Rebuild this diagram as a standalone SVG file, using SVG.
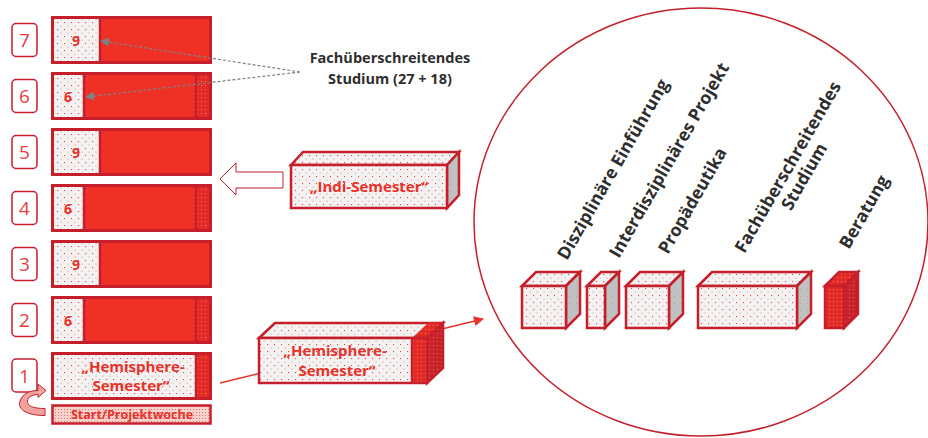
<svg xmlns="http://www.w3.org/2000/svg" width="928" height="438" viewBox="0 0 928 438">
  <defs>
    <pattern id="pLight" width="7" height="7" patternUnits="userSpaceOnUse">
      <rect width="7" height="7" fill="#F3F2F2"/>
      <rect x="1" y="1" width="1.1" height="1.1" fill="#E8483F"/>
      <rect x="4.5" y="4.5" width="1.3" height="1.3" fill="#F4B3AE"/>
    </pattern>
    <pattern id="pGray" width="7" height="7" patternUnits="userSpaceOnUse">
      <rect width="7" height="7" fill="#BFC2C2"/>
      <rect x="2" y="2" width="1" height="1" fill="#D98F8B"/>
    </pattern>
    <pattern id="pRed" width="4" height="4" patternUnits="userSpaceOnUse">
      <rect width="4" height="4" fill="#E32A24"/>
      <rect x="1" y="1" width="1" height="1" fill="#F47F76"/>
    </pattern>
    <pattern id="pRedDark" width="4" height="4" patternUnits="userSpaceOnUse">
      <rect width="4" height="4" fill="#C9222A"/>
      <rect x="1" y="1" width="1" height="1" fill="#E56A66"/>
    </pattern>
    <pattern id="pStart" width="3" height="3" patternUnits="userSpaceOnUse">
      <rect width="3" height="3" fill="#F6D2CE"/>
      <rect x="1" y="1" width="1" height="1" fill="#EE6E66"/>
    </pattern>
    <marker id="mGray" viewBox="0 0 10 10" refX="9" refY="5" markerWidth="9" markerHeight="9" markerUnits="userSpaceOnUse" orient="auto">
      <path d="M0,0 L10,5 L0,10 Z" fill="#7E8286"/>
    </marker>
    <marker id="mRed" viewBox="0 0 10 10" refX="9" refY="5" markerWidth="12" markerHeight="10" markerUnits="userSpaceOnUse" orient="auto">
      <path d="M0,0 L10,5 L0,10 Z" fill="#E8322A"/>
    </marker>
  </defs>
  <style>
    .bar { fill: #EE3124; }
    .frame { fill: none; stroke: #C41F2B; stroke-width: 3; }
    .sep { stroke: #C41F2B; stroke-width: 2.5; }
    .light { fill: url(#pLight); }
    .stripe { fill: url(#pRed); }
    .numbox { fill: #fff; stroke: #C41F2B; stroke-width: 1.5; }
    .num { font-family: "Open Sans", "Liberation Sans", sans-serif; font-size: 19px; fill: #E8403A; text-anchor: middle; }
    .credit { font-family: "Open Sans", "Liberation Sans", sans-serif; font-size: 14px; font-weight: bold; fill: #E8322A; text-anchor: middle; }
    .redlbl { font-family: "Open Sans", "Liberation Sans", sans-serif; font-weight: bold; fill: #E8322A; text-anchor: middle; }
    .dark { font-family: "Open Sans", "Liberation Sans", sans-serif; font-weight: bold; fill: #2E2E2E; }
    .rot { font-size: 17.5px; }
    .face { stroke: #C41F2B; stroke-width: 2.5; stroke-linejoin: miter; }
    .dash { fill: none; stroke: #7E8286; stroke-width: 1.2; stroke-dasharray: 3 2; }
  </style>

  <!-- semester column -->
  <g id="row7">
    <rect class="numbox" x="12" y="23.5" width="25" height="33" rx="4"/>
    <text class="num" x="24.5" y="47">7</text>
    <rect class="bar" x="52" y="17" width="159" height="46"/>
    <rect class="light" x="52" y="17" width="48" height="46"/>
    <line class="sep" x1="100" y1="17" x2="100" y2="63"/>
    <rect class="frame" x="52.5" y="17.5" width="158" height="45"/>
    <text class="credit" x="76" y="46">9</text>
  </g>
  <g id="row6">
    <rect class="numbox" x="12" y="79.5" width="25" height="33" rx="4"/>
    <text class="num" x="24.5" y="103">6</text>
    <rect class="bar" x="52" y="73" width="159" height="46"/>
    <rect class="light" x="52" y="73" width="32" height="46"/>
    <rect class="stripe" x="196" y="73" width="15" height="46"/>
    <line class="sep" x1="84" y1="73" x2="84" y2="119"/>
    <line class="sep" x1="196" y1="73" x2="196" y2="119"/>
    <rect class="frame" x="52.5" y="73.5" width="158" height="45"/>
    <text class="credit" x="68" y="102">6</text>
  </g>
  <g id="row5">
    <rect class="numbox" x="12" y="135.5" width="25" height="33" rx="4"/>
    <text class="num" x="24.5" y="159">5</text>
    <rect class="bar" x="52" y="129" width="159" height="46"/>
    <rect class="light" x="52" y="129" width="48" height="46"/>
    <line class="sep" x1="100" y1="129" x2="100" y2="175"/>
    <rect class="frame" x="52.5" y="129.5" width="158" height="45"/>
    <text class="credit" x="76" y="158">9</text>
  </g>
  <g id="row4">
    <rect class="numbox" x="12" y="191.5" width="25" height="33" rx="4"/>
    <text class="num" x="24.5" y="215">4</text>
    <rect class="bar" x="52" y="185" width="159" height="46"/>
    <rect class="light" x="52" y="185" width="32" height="46"/>
    <rect class="stripe" x="196" y="185" width="15" height="46"/>
    <line class="sep" x1="84" y1="185" x2="84" y2="231"/>
    <line class="sep" x1="196" y1="185" x2="196" y2="231"/>
    <rect class="frame" x="52.5" y="185.5" width="158" height="45"/>
    <text class="credit" x="68" y="214">6</text>
  </g>
  <g id="row3">
    <rect class="numbox" x="12" y="247.5" width="25" height="33" rx="4"/>
    <text class="num" x="24.5" y="271">3</text>
    <rect class="bar" x="52" y="241" width="159" height="46"/>
    <rect class="light" x="52" y="241" width="48" height="46"/>
    <line class="sep" x1="100" y1="241" x2="100" y2="287"/>
    <rect class="frame" x="52.5" y="241.5" width="158" height="45"/>
    <text class="credit" x="76" y="270">9</text>
  </g>
  <g id="row2">
    <rect class="numbox" x="12" y="303.5" width="25" height="33" rx="4"/>
    <text class="num" x="24.5" y="327">2</text>
    <rect class="bar" x="52" y="297" width="159" height="46"/>
    <rect class="light" x="52" y="297" width="32" height="46"/>
    <rect class="stripe" x="196" y="297" width="15" height="46"/>
    <line class="sep" x1="84" y1="297" x2="84" y2="343"/>
    <line class="sep" x1="196" y1="297" x2="196" y2="343"/>
    <rect class="frame" x="52.5" y="297.5" width="158" height="45"/>
    <text class="credit" x="68" y="326">6</text>
  </g>
  <g id="row1">
    <rect class="numbox" x="12" y="359" width="25" height="33" rx="4"/>
    <text class="num" x="24.5" y="383">1</text>
    <rect class="light" x="52" y="353" width="144" height="46"/>
    <rect class="stripe" x="196" y="353" width="15" height="46"/>
    <line class="sep" x1="196" y1="353" x2="196" y2="399"/>
    <rect class="frame" x="52.5" y="353.5" width="158" height="45"/>
    <text class="redlbl" x="133" y="372" font-size="15">„Hemisphere-</text>
    <text class="redlbl" x="131" y="391" font-size="15">Semester“</text>
  </g>
  <g id="start">
    <rect x="52.5" y="405.5" width="158" height="18" fill="url(#pStart)" stroke="#C41F2B" stroke-width="2.5"/>
    <text class="redlbl" x="132" y="419" font-size="12.5">Start/Projektwoche</text>
    <path d="M45,415.5 C28,415.5 17,410 20,401 C22.5,393.5 30,390.5 38,390.5 L38,384 L46,390.5 L38,397.5 L38,394.5 C32,394.5 28,397 27.5,401 C27,406 33,408.5 45,408.5 Z" fill="#F2A3A0" stroke="#C41F2B" stroke-width="1"/>
  </g>

  <!-- explanatory label -->
  <g id="fach-label">
    <text class="dark" x="390" y="63" font-size="14.5" text-anchor="middle">Fachüberschreitendes</text>
    <text class="dark" x="390" y="84" font-size="14.5" text-anchor="middle">Studium (27 + 18)</text>
  </g>

  <!-- Indi-Semester block -->
  <g id="indi">
    <polygon points="220,179 236,163 236,172 283,172 283,188 236,188 236,195" fill="#fff" stroke="#C41F2B" stroke-width="1"/>
    <polygon class="face" points="291,165 303,152 459,152 447,165" fill="url(#pLight)"/>
    <polygon class="face" points="447,165 459,152 459,195 447,208" fill="url(#pGray)"/>
    <rect class="face" x="291" y="165" width="156" height="43" fill="url(#pLight)"/>
    <text class="redlbl" x="369" y="192" font-size="15">„Indi-Semester“</text>
  </g>

  <!-- connectors -->
  <g id="connectors">
    <line class="dash" x1="300" y1="72" x2="101" y2="41" marker-end="url(#mGray)"/>
    <line class="dash" x1="300" y1="72" x2="86" y2="97" marker-end="url(#mGray)"/>
    <line x1="220" y1="383" x2="483" y2="319" stroke="#E8322A" stroke-width="1.6" marker-end="url(#mRed)"/>
  </g>

  <!-- Hemisphere-Semester block -->
  <g id="hemisphere">
    <polygon class="face" points="259,338 275,323 443,323 427,338" fill="url(#pLight)"/>
    <polygon points="412,338 428,323 443,323 427,338" fill="url(#pRed)"/>
    <polygon class="face" points="427,338 443,323 443,368 427,383" fill="url(#pRedDark)"/>
    <rect x="259" y="338" width="168" height="45" fill="url(#pLight)"/>
    <rect x="412" y="338" width="15" height="45" fill="url(#pRed)"/>
    <line class="sep" x1="412" y1="338" x2="412" y2="383" stroke-width="1.5"/>
    <rect class="face" x="259" y="338" width="168" height="45" fill="none"/>
    <text class="redlbl" x="335" y="356" font-size="15">„Hemisphere-</text>
    <text class="redlbl" x="337" y="376" font-size="15">Semester“</text>
  </g>

  <!-- components circle -->
  <g id="circle">
    <ellipse cx="701" cy="222" rx="227" ry="214" fill="none" stroke="#C41F2B" stroke-width="1.5"/>
  </g>

  <g id="disziplinaer">
    <polygon class="face" points="522,286 536,272 580,272 566,286" fill="url(#pLight)"/>
    <polygon class="face" points="566,286 580,272 580,314 566,328" fill="url(#pGray)"/>
    <rect class="face" x="522" y="286" width="44" height="42" fill="url(#pLight)"/>
    <text class="dark rot" transform="translate(567,261) rotate(-60)">Disziplinäre Einführung</text>
  </g>
  <g id="interdisziplinaer">
    <polygon class="face" points="587,286 601,272 619,272 605,286" fill="url(#pLight)"/>
    <polygon class="face" points="605,286 619,272 619,314 605,328" fill="url(#pGray)"/>
    <rect class="face" x="587" y="286" width="18" height="42" fill="url(#pLight)"/>
    <text class="dark rot" transform="translate(619,259) rotate(-60)">Interdisziplinäres Projekt</text>
  </g>
  <g id="propaedeutika">
    <polygon class="face" points="626,286 640,272 683,272 669,286" fill="url(#pLight)"/>
    <polygon class="face" points="669,286 683,272 683,314 669,328" fill="url(#pGray)"/>
    <rect class="face" x="626" y="286" width="43" height="42" fill="url(#pLight)"/>
    <text class="dark rot" transform="translate(668,255) rotate(-60)">Propädeutika</text>
  </g>
  <g id="fachueberschreitend">
    <polygon class="face" points="698,286 712,272 811,272 797,286" fill="url(#pLight)"/>
    <polygon class="face" points="797,286 811,272 811,314 797,328" fill="url(#pGray)"/>
    <rect class="face" x="698" y="286" width="99" height="42" fill="url(#pLight)"/>
    <g transform="translate(793,170) rotate(-60)">
      <text class="dark rot" x="0" y="0" text-anchor="middle">Fachüberschreitendes</text>
      <text class="dark rot" x="0" y="19" text-anchor="middle">Studium</text>
    </g>
  </g>
  <g id="beratung">
    <polygon class="face" points="825,286 839,272 858,272 844,286" fill="url(#pRed)" stroke-width="1.5"/>
    <polygon class="face" points="844,286 858,272 858,314 844,328" fill="url(#pRedDark)" stroke-width="1.5"/>
    <rect class="face" x="825" y="286" width="19" height="42" fill="url(#pRed)" stroke-width="1.5"/>
    <text class="dark rot" transform="translate(849,250) rotate(-60)">Beratung</text>
  </g>
</svg>
